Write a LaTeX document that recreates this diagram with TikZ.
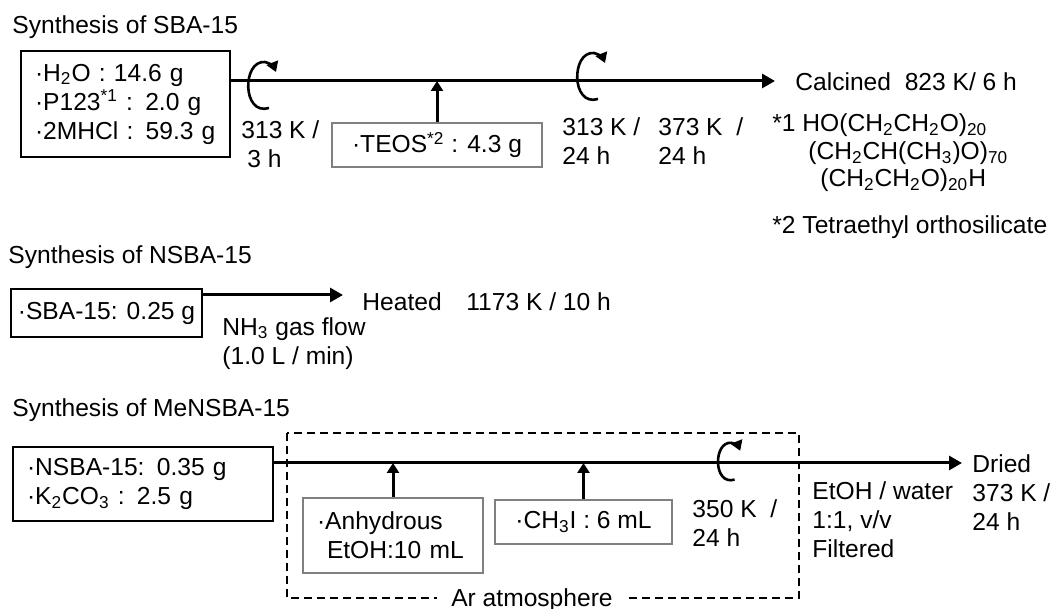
\documentclass[tikz,border=0pt]{standalone}
\usepackage{fontspec}
\setmainfont{Liberation Sans}
\usetikzlibrary{arrows.meta, positioning}

\begin{document}
\begin{tikzpicture}[x=0.5pt, y=0.5pt, font=\fontsize{12.3}{14.5}\selectfont,
    flow/.style={line width=1.5pt, -{Triangle[length=6.5pt, width=7pt]}},
    feed/.style={line width=1.5pt, -{Triangle[length=5pt, width=6pt]}},
    mixbox/.style={draw, line width=0.8pt, align=left},
    addbox/.style={draw=black!50, line width=0.8pt, align=left},
    note/.style={inner sep=0pt, align=left, anchor=west},
    stir/.pic={\draw[line width=1.3pt, -{Triangle[length=5pt, width=6pt]}]
      (7,-22) .. controls (-20,-30) and (-20,26) .. (3,24) .. controls (8,23) and (12,19) .. (14,14);}]
  \useasboundingbox (0,0) rectangle (1062,-609);
  % Synthesis of SBA-15
  \node[note] (t1) at (12,-27) {Synthesis\ of SBA-15};
  \node[mixbox, minimum width=104.5pt, minimum height=53pt, text width=90.5pt] (mix1) at (125.5,-104)
    {·H\textsubscript{2}O : 14.6 g\\ ·P123\textsuperscript{*1} : 2.0 g\\ ·2MHCl : 59.3 g};
  \coordinate (e1) at (775,-81);
  \draw[flow] (mix1.east |- e1) -- (e1);
  \node[addbox, minimum width=105pt, minimum height=22pt] (teos) at (437,-145) {·TEOS\textsuperscript{*2} : 4.3 g};
  \draw[feed] (teos.north) -- (teos.north |- e1);
  \pic at (262,-86) {stir};
  \pic at (591,-77) {stir};
  \node[note, anchor=north west] (k1) at (241,-120) {313 K /\\\hspace*{3pt}3 h};
  \node[note, anchor=north west] (k2) at (562,-117) {313 K /\\24 h};
  \node[note, anchor=north west] (k3) at (658,-117) {373 K\ \ /\\24 h};
  \node[note] (calc) at (795,-82) {Calcined\ \ 823 K/ 6 h};
  \node[note] (fn1) at (772,-125) {*1 HO(CH\textsubscript{2}CH\textsubscript{2}O)\textsubscript{20}};
  \node[note] (fn1b) at (808,-153) {(CH\textsubscript{2}CH(CH\textsubscript{3})O)\textsubscript{70}};
  \node[note] (fn1c) at (820,-180) {(CH\textsubscript{2}CH\textsubscript{2}O)\textsubscript{20}H};
  \node[note] (fn2) at (772,-227) {*2 Tetraethyl\ orthosilicate};
  % Synthesis of NSBA-15
  \node[note] (t2) at (8,-257) {Synthesis\ of NSBA-15};
  \node[mixbox, minimum width=93.5pt, minimum height=24pt] (sba) at (106.5,-313) {·SBA-15: 0.25 g};
  \coordinate (e2) at (343,-295);
  \draw[flow] (sba.east |- e2) -- (e2);
  \node[note, anchor=north west] (nh3) at (222,-317) {NH\textsubscript{3} gas flow\\(1.0 L / min)};
  \node[note] (heat) at (362,-302) {Heated\quad 1173 K / 10 h};
  % Synthesis of MeNSBA-15
  \node[note] (t3) at (12,-410) {Synthesis\ of MeNSBA-15};
  \node[mixbox, minimum width=130pt, minimum height=37pt, text width=116pt] (nsba) at (143,-484)
    {·NSBA-15: 0.35 g\\·K\textsubscript{2}CO\textsubscript{3} : 2.5 g};
  \draw[line width=0.9pt, dash pattern=on 4pt off 2.5pt] (287,-433) rectangle (799,-598);
  \node[fill=white, inner xsep=7pt, inner ysep=1pt] (ar) at (532,-600) {Ar atmosphere};
  \coordinate (e3) at (962,-463);
  \draw[flow] (nsba.east |- e3) -- (e3);
  \node[addbox, minimum width=90pt, minimum height=37.5pt, text width=76pt] (etoh) at (393,-535.5)
    {·Anhydrous\\\hspace*{5pt}EtOH:10 mL};
  \draw[feed] (etoh.north) -- (etoh.north |- e3);
  \node[addbox, minimum width=88.5pt, minimum height=22pt] (ch3i) at (583.5,-522) {·CH\textsubscript{3}I : 6 mL};
  \draw[feed] (ch3i.north) -- (ch3i.north |- e3);
  \pic[scale=0.8] at (729,-462) {stir};
  \node[note, anchor=north west] (k4) at (692,-499) {350 K\ \ /\\24 h};
  \node[note, anchor=north west] (wash) at (812,-481) {EtOH / water\\1:1, v/v\\Filtered};
  \node[note, anchor=north west] (dry) at (972,-454) {Dried\\373 K /\\24 h};
\end{tikzpicture}
\end{document}
